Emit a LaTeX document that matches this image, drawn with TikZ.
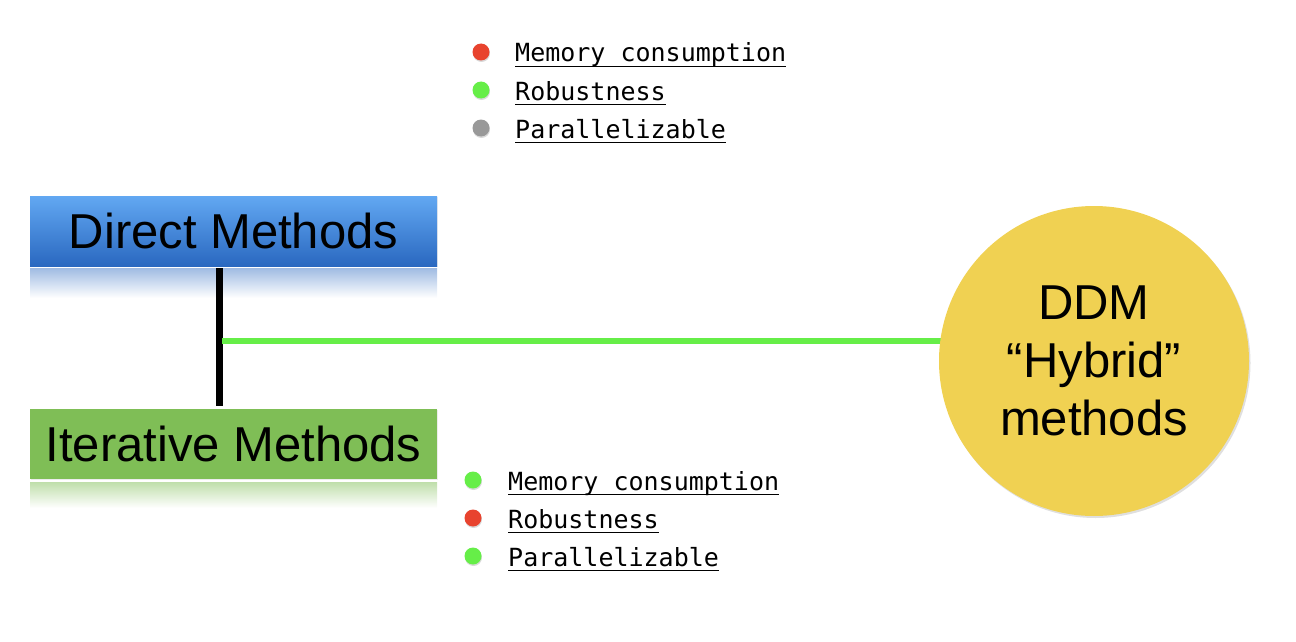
\documentclass[tikz,border=0pt]{standalone}
\usepackage{fontspec}
\setmainfont{Liberation Sans}
\newfontfamily\monof{DejaVu Sans Mono}
\usetikzlibrary{shadows}
\definecolor{dtop}{HTML}{62A8F2}
\definecolor{dbot}{HTML}{2A68C0}
\definecolor{itgreen}{HTML}{7FBE56}
\definecolor{lgreen}{HTML}{66EE48}
\definecolor{dred}{HTML}{E8432E}
\definecolor{dgray}{HTML}{999999}
\definecolor{ddmyel}{HTML}{F0D152}
\tikzset{
  methodbox/.style={minimum width=407pt, minimum height=70pt, inner sep=0pt, font=\fontsize{49}{58}\selectfont},
  dot/.style={circle, minimum size=17pt, inner sep=0pt, drop shadow={shadow xshift=0.5pt, shadow yshift=-1.5pt, opacity=0.3}},
  item/.style={anchor=base west, inner sep=0pt, font=\monof\fontsize{25}{30}\selectfont},
  uline/.style={line width=1.8pt, black}
}
\begin{document}
\begin{tikzpicture}[x=1pt,y=-1pt]
\useasboundingbox (0,0) rectangle (1296,642);
% reflections
\shade[top color=dbot!45, bottom color=white] (30,268) rectangle (437,298);
\shade[top color=itgreen!50, bottom color=white] (30,482) rectangle (437,508);
% boxes
\node[methodbox, top color=dtop, bottom color=dbot, drop shadow={shadow xshift=1pt, shadow yshift=-1pt, opacity=0.15}] (direct) at (233.5,231) {Direct Methods};
\node[methodbox, fill=itgreen, drop shadow={shadow xshift=1pt, shadow yshift=-1pt, opacity=0.15}] (iter) at (233.5,444) {Iterative Methods};
% connectors
\coordinate (vtop) at (219.5,268);
\coordinate (vbot) at (219.5,406);
\draw[line width=7pt, black] (vtop) -- (vbot);
\coordinate (j) at (222,341);
\coordinate (c) at (1094,361);
\draw[line width=6pt, lgreen] (j) -- ([xshift=-140pt]j -| c);
% DDM circle
\node[circle, fill=ddmyel, minimum size=310pt, inner sep=0pt, align=center,
  font=\fontsize{49}{58}\selectfont,
  drop shadow={shadow xshift=1.5pt, shadow yshift=-2pt, opacity=0.25}] (ddm) at (c) {DDM\\``Hybrid''\\methods};
% top bullets
\node[dot, fill=dred] (d1) at (481,52) {};
\node[dot, fill=lgreen] (d2) at (481,90) {};
\node[dot, fill=dgray] (d3) at (481,128) {};
\node[item] (t1) at (515,62) {Memory consumption};
\node[item] (t2) at (515,100) {Robustness};
\node[item] (t3) at (515,138) {Parallelizable};
% bottom bullets
\node[dot, fill=lgreen] (e1) at (473,480) {};
\node[dot, fill=dred] (e2) at (473,518) {};
\node[dot, fill=lgreen] (e3) at (473,556) {};
\node[item] (u1) at (508,490) {Memory consumption};
\node[item] (u2) at (508,528) {Robustness};
\node[item] (u3) at (508,566) {Parallelizable};
% underlines
\foreach \n in {t1,t2,t3,u1,u2,u3}{
  \draw[uline] ([yshift=-4.5pt]\n.base west) -- ([yshift=-4.5pt]\n.base east);
}
\end{tikzpicture}
\end{document}
